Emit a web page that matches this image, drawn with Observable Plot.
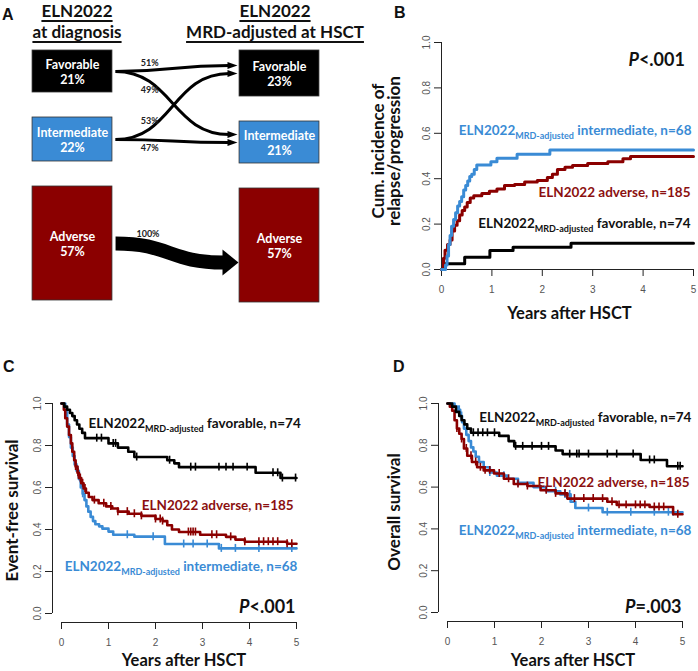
<!DOCTYPE html>
<html><head><meta charset="utf-8">
<script src="https://cdn.jsdelivr.net/npm/d3@7"></script>
<script src="https://cdn.jsdelivr.net/npm/@observablehq/plot@0.6"></script>
<style>
body{margin:0;background:#fff;}
#wrap{position:relative;width:698px;height:671px;overflow:hidden;font-family:Lato,sans-serif;background:#fff;}
.panel{position:absolute;}
.letter{position:absolute;font:bold 16px "Liberation Sans",Arial,sans-serif;color:#111;}
.hdr{position:absolute;font:bold 17px Lato,sans-serif;text-align:center;line-height:21px;color:#111;}
.hdr span{text-decoration:underline;text-decoration-thickness:1.5px;text-underline-offset:3px;}
</style></head>
<body><div id="wrap"></div>
<script>
// ---------------- DATA ----------------
// Panel A
const catsA = ["Favorable", "Intermediate", "Adverse"];
const pctAtDiagnosis = [21, 22, 57];
const pctAtHSCT = [23, 21, 57];
const flowFrom = ["Favorable", "Favorable", "Intermediate", "Intermediate", "Adverse"];
const flowTo   = ["Favorable", "Intermediate", "Favorable", "Intermediate", "Adverse"];
const flowPct  = [51, 49, 53, 47, 100];
const headerLeft = ["ELN2022", "at diagnosis"];
const headerRight = ["ELN2022", "MRD-adjusted at HSCT"];

// Series names / labels
const groups = ["favorable", "adverse", "intermediate"];
const groupLabels = ["ELN2022_{MRD-adjusted} favorable, n=74", "ELN2022 adverse, n=185", "ELN2022_{MRD-adjusted} intermediate, n=68"];

// Panel B: cumulative incidence of relapse/progression
const cirFavT = [0, 0.05, 0.46, 0.96, 1.42, 2.57, 5];
const cirFavV = [0, 0.025, 0.054, 0.084, 0.098, 0.116, 0.116];
const cirAdvT = [0, 0.04, 0.07, 0.12, 0.17, 0.21, 0.26, 0.31, 0.36, 0.41, 0.46, 0.51, 0.57, 0.64, 0.8, 0.95, 1.1, 1.25, 1.45, 1.65, 1.9, 2.1, 2.2, 2.3, 2.45, 2.6, 2.9, 3.3, 3.6, 3.75, 5];
const cirAdvV = [0, 0.05, 0.085, 0.11, 0.13, 0.17, 0.195, 0.215, 0.24, 0.26, 0.275, 0.295, 0.315, 0.325, 0.335, 0.345, 0.355, 0.37, 0.375, 0.385, 0.392, 0.405, 0.42, 0.44, 0.45, 0.458, 0.467, 0.475, 0.488, 0.498, 0.498];
const cirIntT = [0, 0.08, 0.11, 0.14, 0.17, 0.2, 0.24, 0.28, 0.32, 0.36, 0.4, 0.44, 0.48, 0.52, 0.56, 0.6, 0.65, 0.7, 0.98, 1.1, 1.5, 2.15, 5];
const cirIntV = [0, 0.02, 0.06, 0.11, 0.15, 0.19, 0.22, 0.25, 0.28, 0.3, 0.32, 0.35, 0.37, 0.39, 0.41, 0.42, 0.44, 0.46, 0.475, 0.49, 0.508, 0.526, 0.526];
const cirP = "P<.001";

// Panel C: event-free survival
const efsFavT = [0, 0.06, 0.12, 0.18, 0.23, 0.28, 0.33, 0.38, 0.44, 0.5, 1.0, 1.2, 1.42, 1.55, 2.25, 2.4, 2.5, 4.13, 4.66, 5];
const efsFavV = [1, 0.985, 0.97, 0.955, 0.94, 0.92, 0.9, 0.88, 0.86, 0.835, 0.81, 0.79, 0.77, 0.745, 0.73, 0.715, 0.697, 0.67, 0.645, 0.645];
const efsAdvT = [0, 0.05, 0.08, 0.12, 0.16, 0.2, 0.23, 0.27, 0.3, 0.34, 0.37, 0.42, 0.47, 0.52, 0.58, 0.66, 0.79, 0.95, 1.08, 1.2, 1.43, 1.7, 2.0, 2.15, 2.25, 2.35, 2.5, 2.95, 3.5, 3.7, 3.9, 4.8, 5];
const efsAdvV = [1, 0.97, 0.93, 0.89, 0.85, 0.81, 0.77, 0.73, 0.7, 0.67, 0.645, 0.62, 0.595, 0.575, 0.555, 0.54, 0.525, 0.51, 0.5, 0.485, 0.475, 0.465, 0.45, 0.44, 0.42, 0.4, 0.388, 0.375, 0.365, 0.352, 0.342, 0.332, 0.332];
const efsIntT = [0, 0.08, 0.12, 0.16, 0.2, 0.24, 0.28, 0.32, 0.37, 0.41, 0.45, 0.49, 0.53, 0.57, 0.62, 0.67, 0.72, 0.8, 0.87, 1.0, 1.1, 1.55, 2.2, 3.35, 5];
const efsIntV = [1, 0.96, 0.9, 0.84, 0.79, 0.75, 0.71, 0.68, 0.64, 0.6, 0.57, 0.54, 0.51, 0.485, 0.46, 0.44, 0.425, 0.415, 0.404, 0.39, 0.375, 0.366, 0.331, 0.31, 0.31];
const efsFavCens = [0.75, 0.85, 1.1, 1.15, 1.6, 2.3, 2.75, 2.85, 3.35, 3.5, 3.65, 3.95, 4.5, 4.6, 4.7, 4.98];
const efsAdvCens = [0.3, 0.35, 0.4, 0.45, 0.5, 0.7, 0.9, 1.05, 1.2, 1.4, 1.55, 1.7, 2.0, 2.1, 2.15, 2.7, 2.75, 2.8, 2.85, 3.2, 3.3, 3.6, 3.9, 4.2, 4.3, 4.4, 4.5, 4.6, 4.8, 4.9];
const efsIntCens = [0.35, 0.4, 0.45, 1.4, 1.95, 2.6, 2.8, 3.1, 3.4, 3.7, 4.2, 4.9];
const efsP = "P<.001";

// Panel D: overall survival
const osFavT = [0, 0.1, 0.18, 0.25, 0.3, 0.36, 0.42, 0.5, 1.1, 1.3, 1.42, 2.3, 2.45, 4.11, 4.67, 5];
const osFavV = [1, 0.985, 0.96, 0.94, 0.92, 0.9, 0.88, 0.86, 0.845, 0.82, 0.795, 0.775, 0.758, 0.73, 0.70, 0.70];
const osAdvT = [0, 0.05, 0.1, 0.15, 0.2, 0.25, 0.3, 0.35, 0.42, 0.52, 0.63, 0.77, 0.99, 1.2, 1.41, 1.7, 1.98, 2.3, 2.55, 3.4, 3.6, 4.3, 4.8, 5];
const osAdvV = [1, 0.985, 0.965, 0.92, 0.88, 0.855, 0.83, 0.785, 0.75, 0.72, 0.695, 0.68, 0.665, 0.64, 0.615, 0.605, 0.585, 0.57, 0.545, 0.53, 0.515, 0.505, 0.47, 0.47];
const osIntT = [0, 0.15, 0.22, 0.27, 0.31, 0.35, 0.4, 0.45, 0.5, 0.55, 0.6, 0.67, 0.77, 0.9, 1.05, 1.27, 1.5, 1.83, 2.1, 2.4, 2.62, 2.72, 3.3, 5];
const osIntV = [1, 0.985, 0.97, 0.94, 0.91, 0.88, 0.85, 0.82, 0.79, 0.77, 0.745, 0.72, 0.695, 0.67, 0.655, 0.64, 0.62, 0.6, 0.58, 0.565, 0.53, 0.5, 0.48, 0.48];
const osFavCens = [0.55, 0.65, 0.75, 0.85, 1.0, 1.45, 1.6, 1.8, 2.0, 2.15, 2.6, 2.75, 2.8, 3.0, 3.4, 3.6, 3.95, 4.3, 4.4, 4.9, 4.95];
const osAdvCens = [0.2, 0.3, 0.4, 0.5, 0.6, 0.7, 0.8, 0.9, 1.1, 1.3, 1.5, 1.7, 2.1, 2.3, 2.5, 2.7, 2.9, 3.1, 3.3, 3.5, 3.65, 3.8, 4.0, 4.1, 4.2, 4.4, 4.5, 4.6, 4.9];
const osIntCens = [0.25, 0.3, 0.9, 1.2, 1.5, 2.3, 2.5, 2.6, 3.0, 3.4, 3.9, 4.4, 4.7, 4.8];
const osP = "P=.003";

const xTicks = [0, 1, 2, 3, 4, 5];
const yTicks = [0, 0.2, 0.4, 0.6, 0.8, 1.0];

// ---------------- STYLE ----------------
const catFill = {Favorable: "#000000", Intermediate: "#3a8bd5", Adverse: "#8b0000"};
const lineColor = {favorable: "#000000", adverse: "#8b0000", intermediate: "#3a8bd5"};
const labelColor = {favorable: "#111111", adverse: "#8b1010", intermediate: "#3a8bd5"};

const wrap = document.getElementById("wrap");
function place(el, left, top) { el.classList.add("panel"); el.style.left = left + "px"; el.style.top = top + "px"; wrap.appendChild(el); }

// rich text: subscripts and italic P
function richText(svg) {
  const ns = "http://www.w3.org/2000/svg";
  svg.querySelectorAll("text").forEach(t => {
    const s = t.textContent;
    const m = s.match(/^(.*)_\{(.*)\}(.*)$/);
    if (m) {
      while (t.firstChild) t.removeChild(t.firstChild);
      const a = document.createElementNS(ns, "tspan"); a.textContent = m[1];
      const b = document.createElementNS(ns, "tspan"); b.textContent = m[2]; b.setAttribute("font-size", "9"); b.setAttribute("dy", "4");
      const c = document.createElementNS(ns, "tspan"); c.textContent = m[3]; c.setAttribute("dy", "-4");
      t.append(a, b, c);
    } else if (/^P[<=]/.test(s)) {
      while (t.firstChild) t.removeChild(t.firstChild);
      const a = document.createElementNS(ns, "tspan"); a.textContent = "P"; a.setAttribute("font-style", "italic");
      const b = document.createElementNS(ns, "tspan"); b.textContent = s.slice(1);
      t.append(a, b);
    }
  });
}

// ---------------- PANEL A ----------------
(function () {
  const gap = 12.5, bw = 0.193;
  function stackCol(pcts, col) {
    let y = 0;
    return catsA.map((cat, i) => { const b = {col, cat, pct: pcts[i], y1: y, y2: y + pcts[i], mid: y + pcts[i] / 2}; y += pcts[i] + gap; return b; });
  }
  const colD = stackCol(pctAtDiagnosis, 0), colH = stackCol(pctAtHSCT, 1);
  const boxes = colD.concat(colH);
  const flows = flowFrom.map((f, i) => ({from: f, to: flowTo[i], pct: flowPct[i]}));
  const xa = bw + 0.015, xb = 1 - bw - 0.01;
  flows.forEach(fl => {
    const src = colD.find(b => b.cat === fl.from), tgt = colH.find(b => b.cat === fl.to);
    const incoming = flows.filter(g => g.to === fl.to);
    const k = incoming.indexOf(fl);
    fl.thick = fl.pct === 100;
    fl.xa = xa; fl.xb = xb;
    fl.ya = src.mid;
    fl.yb = incoming.length > 1 ? tgt.mid + (k === 0 ? -4 : 0) : tgt.mid + 8.5;
    const head = fl.thick ? 0.072 : 0.045;
    fl.xl = xb - head + 0.005;
  });
  flows.forEach(fl => {
    const f = 0.3;
    let lo = 0, hi = 1;
    for (let it = 0; it < 40; it++) { const t = (lo + hi) / 2; const xf = 1.5 * t * (1 - t) + t * t * t; if (xf < f) lo = t; else hi = t; }
    const t = (lo + hi) / 2;
    const yf = 3 * t * t * (1 - t) + t * t * t;
    fl.lx = xa + f * (fl.xl - xa);
    fl.ly = fl.ya + yf * (fl.yb - fl.ya);
    const sibs = flows.filter(g => g.from === fl.from);
    fl.above = sibs.every(g => g === fl || fl.yb <= g.yb);
  });
  const headThin = {draw(ctx) { ctx.moveTo(0, 0); ctx.lineTo(-10, -3.5); ctx.lineTo(-10, 3.5); ctx.closePath(); }};
  const headThick = {draw(ctx) { ctx.moveTo(1, 0); ctx.lineTo(-15, -13); ctx.lineTo(-15, 13); ctx.closePath(); }};
  const thin = flows.filter(d => !d.thick), thick = flows.filter(d => d.thick);
  const svg = Plot.plot({
    width: 349, height: 335, margin: 0,
    style: {fontFamily: "Lato, sans-serif", background: "transparent"},
    x: {domain: [0, 1], range: [72, 279], axis: null},
    y: {domain: [0, 126], range: [50, 302], axis: null},
    color: {type: "identity"},
    marks: [
      Plot.rect(boxes, {x1: d => d.col - bw, x2: d => d.col + bw, y1: "y1", y2: "y2", fill: d => catFill[d.cat], stroke: "#333", strokeWidth: 0.8}),
      Plot.text(boxes, {x: "col", y: "mid", text: d => d.cat + "\n" + d.pct + "%", fill: "white", fontWeight: "bold", fontSize: 12.5, lineHeight: 1.25}),
      Plot.link(thin, {x1: "xa", y1: "ya", x2: "xl", y2: "yb", curve: "bump-x", stroke: "#000", strokeWidth: 3}),
      Plot.link(thick, {x1: "xa", y1: "ya", x2: "xl", y2: "yb", curve: "bump-x", stroke: "#000", strokeWidth: 14}),
      Plot.dot(thin, {x: "xb", y: "yb", symbol: headThin, fill: "#000", stroke: "none"}),
      Plot.dot(thick, {x: "xb", y: "yb", symbol: headThick, fill: "#000", stroke: "none"}),
      Plot.text(flows.filter(d => d.above && !d.thick), {x: "lx", y: "ly", text: d => d.pct + "%", lineAnchor: "bottom", dy: -5, fontSize: 9, fontWeight: "bold", fill: "#222"}),
      Plot.text(flows.filter(d => d.above && d.thick), {x: "lx", y: "ly", text: d => d.pct + "%", lineAnchor: "bottom", dy: -10, fontSize: 9, fontWeight: "bold", fill: "#222"}),
      Plot.text(flows.filter(d => !d.above), {x: "lx", y: "ly", text: d => d.pct + "%", lineAnchor: "top", dy: 5, fontSize: 9, fontWeight: "bold", fill: "#222"})
    ]
  });
  place(svg, 0, 0);
  const h1 = document.createElement("div"); h1.className = "hdr";
  h1.innerHTML = headerLeft.map(s => "<span>" + s + "</span>").join("<br>");
  h1.style.left = "-23px"; h1.style.width = "200px"; h1.style.top = "0px"; wrap.appendChild(h1);
  const h2 = document.createElement("div"); h2.className = "hdr";
  h2.innerHTML = headerRight.map(s => "<span>" + s + "</span>").join("<br>");
  h2.style.left = "175px"; h2.style.width = "200px"; h2.style.top = "0px"; wrap.appendChild(h2);
})();

// ---------------- SURVIVAL PANELS ----------------
function series(name, ts, vs) { return ts.map((t, i) => ({g: name, t, v: vs[i]})); }
function stepAt(ts, vs, c) { let v = vs[0]; for (let i = 0; i < ts.length; i++) if (ts[i] <= c) v = vs[i]; return v; }
function cens(name, cs, ts, vs) { return cs.map(c => ({g: name, t: c, v: stepAt(ts, vs, c)})); }

function survPanel(cfg) {
  const w = 349, h = cfg.height;
  const kx = 5 / (w - cfg.ml - cfg.mr);
  const ky = 1 / (h - cfg.mt - cfg.mb);
  const xa = -cfg.yAxisGap * kx;
  const ya = -cfg.xAxisGap * ky;
  const tk = 7;
  const marks = [
    Plot.ruleX([xa], {y1: 0, y2: 1, stroke: "#222", strokeWidth: 1}),
    Plot.ruleY(yTicks, {y: d => d, x1: xa, x2: xa - tk * kx, stroke: "#222"}),
    Plot.text(yTicks, {x: xa, y: d => d, text: d => d.toFixed(1), rotate: -90, dx: -15, fontSize: 10, fill: "#555", fontFamily: "Liberation Sans, Arial, sans-serif"}),
    Plot.ruleY([ya], {x1: 0, x2: 5, stroke: "#222"}),
    Plot.ruleX(xTicks, {x: d => d, y1: ya, y2: ya - tk * ky, stroke: "#222"}),
    Plot.text(xTicks, {x: d => d, y: ya, dy: 20, text: d => String(d), fontSize: 10, fill: "#555", fontFamily: "Liberation Sans, Arial, sans-serif"}),
    Plot.text([cfg.yTitle], {frameAnchor: "left", textAnchor: "middle", lineAnchor: "middle", rotate: -90, dx: cfg.yTitleDx, dy: cfg.yTitleDy, fontSize: 17, fontWeight: "bold", fill: "#111", lineHeight: 0.95}),
    Plot.text(["Years after HSCT"], {frameAnchor: "bottom", textAnchor: "middle", lineAnchor: "middle", dx: cfg.xTitleDx, dy: cfg.xTitleDy, fontSize: 16.5, fontWeight: "bold", fill: "#111"})
  ];
  for (const s of cfg.order) {
    const d = cfg.lines[s];
    marks.push(Plot.line(d, {x: "t", y: "v", curve: "step-after", stroke: lineColor[s], strokeWidth: cfg.sw}));
    if (cfg.cens) marks.push(Plot.ruleX(cfg.cens[s], {x: "t", y1: d2 => d2.v - 0.019, y2: d2 => d2.v + 0.019, stroke: lineColor[s], strokeWidth: 1.6}));
  }
  cfg.labels.forEach((L) => {
    marks.push(Plot.text([groupLabels[groups.indexOf(L.g)]], {x: L.x, y: L.y, textAnchor: "end", fontSize: 13.5, fontWeight: "bold", fill: labelColor[L.g]}));
  });
  marks.push(Plot.text([cfg.p], {x: cfg.px, y: cfg.py, textAnchor: "end", fontSize: 18, fontWeight: "bold", fill: "#111"}));
  const svg = Plot.plot({
    width: w, height: h, marginLeft: cfg.ml, marginRight: cfg.mr, marginTop: cfg.mt, marginBottom: cfg.mb,
    style: {fontFamily: "Lato, sans-serif", background: "transparent", overflow: "visible"},
    x: {domain: [0, 5], axis: null},
    y: {domain: [0, 1], axis: null},
    marks
  });
  richText(svg);
  place(svg, cfg.left, cfg.top);
}

survPanel({
  left: 349, top: 0, height: 335, ml: 92, mr: 5, mt: 42, mb: 66, yAxisGap: 0, xAxisGap: 0, sw: 3,
  yTitle: "Cum. incidence of\nrelapse/progression", yTitleDx: -55, yTitleDy: -5, xTitleDx: 2, xTitleDy: 44,
  order: ["favorable", "adverse", "intermediate"],
  lines: {favorable: series("favorable", cirFavT, cirFavV), adverse: series("adverse", cirAdvT, cirAdvV), intermediate: series("intermediate", cirIntT, cirIntV)},
  labels: [{g: "intermediate", x: 4.96, y: 0.612}, {g: "adverse", x: 4.94, y: 0.338}, {g: "favorable", x: 4.94, y: 0.2}],
  p: cirP, px: 4.83, py: 0.922
});

survPanel({
  left: 0, top: 335, height: 336, ml: 61, mr: 53, mt: 68, mb: 58, yAxisGap: 9, xAxisGap: 9, sw: 2.6,
  yTitle: "Event-free survival", yTitleDx: -49, yTitleDy: 2, xTitleDx: 5, xTitleDy: 47,
  order: ["intermediate", "adverse", "favorable"],
  lines: {favorable: series("favorable", efsFavT, efsFavV), adverse: series("adverse", efsAdvT, efsAdvV), intermediate: series("intermediate", efsIntT, efsIntV)},
  cens: {favorable: cens("favorable", efsFavCens, efsFavT, efsFavV), adverse: cens("adverse", efsAdvCens, efsAdvT, efsAdvV), intermediate: cens("intermediate", efsIntCens, efsIntT, efsIntV)},
  labels: [{g: "favorable", x: 5.09, y: 0.905}, {g: "adverse", x: 4.94, y: 0.514}, {g: "intermediate", x: 5.02, y: 0.224}],
  p: efsP, px: 4.98, py: 0.03
});

survPanel({
  left: 349, top: 335, height: 336, ml: 98, mr: 16, mt: 68, mb: 59, yAxisGap: 9, xAxisGap: 9, sw: 2.6,
  yTitle: "Overall survival", yTitleDx: -53, yTitleDy: 4, xTitleDx: 8, xTitleDy: 48,
  order: ["intermediate", "adverse", "favorable"],
  lines: {favorable: series("favorable", osFavT, osFavV), adverse: series("adverse", osAdvT, osAdvV), intermediate: series("intermediate", osIntT, osIntV)},
  cens: {favorable: cens("favorable", osFavCens, osFavT, osFavV), adverse: cens("adverse", osAdvCens, osAdvT, osAdvV), intermediate: cens("intermediate", osIntCens, osIntT, osIntV)},
  labels: [{g: "favorable", x: 5.19, y: 0.933}, {g: "adverse", x: 5.15, y: 0.622}, {g: "intermediate", x: 5.19, y: 0.392}],
  p: osP, px: 4.98, py: 0.024
});

// panel letters
[["A", 2, 6], ["B", 394, 4], ["C", 3, 358], ["D", 393, 358]].forEach(([s, l, t]) => {
  const d = document.createElement("div"); d.className = "letter"; d.textContent = s; d.style.left = l + "px"; d.style.top = t + "px"; wrap.appendChild(d);
});
</script>
</body></html>
